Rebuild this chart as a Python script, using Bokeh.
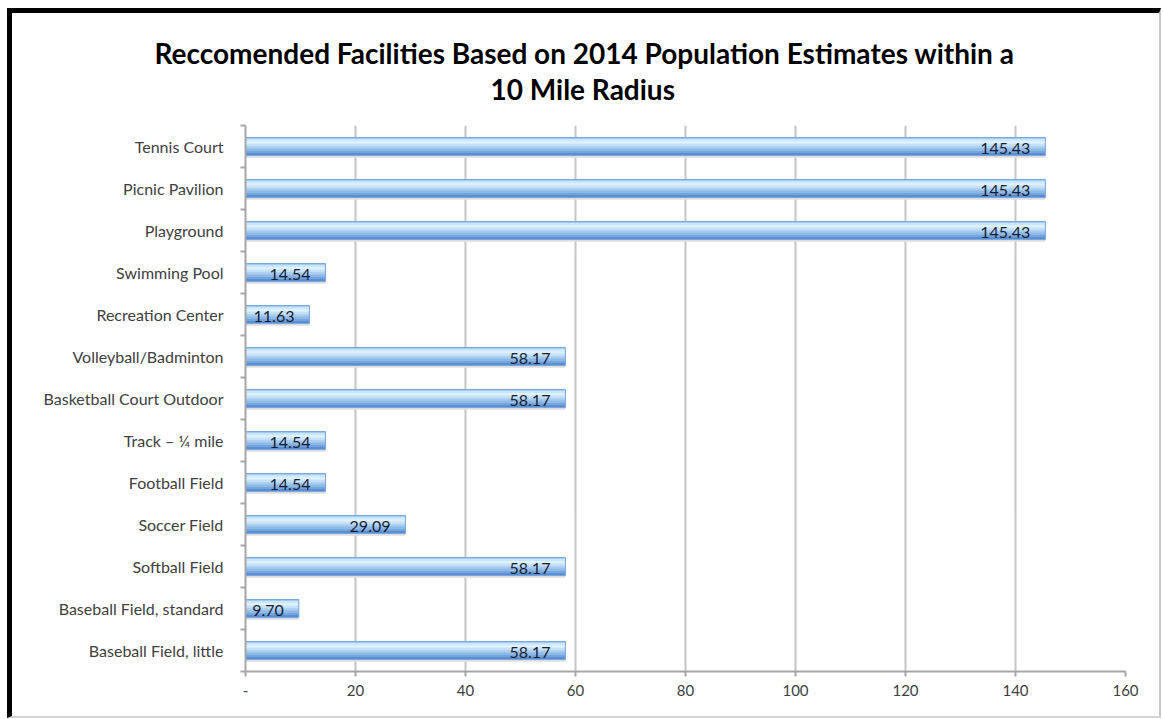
from bokeh.plotting import figure
from bokeh.models import Range1d, FixedTicker, LabelSet, ColumnDataSource, Title
from bokeh.core.properties import value
from bokeh.embed import file_html
from bokeh.resources import INLINE

# ---- data (top to bottom as shown) ----
categories = [
    "Tennis Court", "Picnic Pavilion", "Playground", "Swimming Pool",
    "Recreation Center", "Volleyball/Badminton", "Basketball Court Outdoor",
    "Track \u2013 \u00bc mile", "Football Field", "Soccer Field", "Softball Field",
    "Baseball Field, standard", "Baseball Field, little",
]
values = [145.43, 145.43, 145.43, 14.54, 11.63, 58.17, 58.17,
          14.54, 14.54, 29.09, 58.17, 9.70, 58.17]
value_labels = ["145.43", "145.43", "145.43", "14.54", "11.63", "58.17", "58.17",
                "14.54", "14.54", "29.09", "58.17", "9.70", "58.17"]
x_ticks = [0, 20, 40, 60, 80, 100, 120, 140, 160]
x_tick_labels = ["-", "20", "40", "60", "80", "100", "120", "140", "160"]
title_lines = ["Reccomended Facilities Based on 2014 Population Estimates within a",
               "10 Mile Radius"]

n = len(categories)
y_pos = [n - i - 0.5 for i in range(n)]

FONT = "Lato"
LABEL_COLOR = "#404040"
AXIS_COLOR = "#a6a6a6"
GRID_COLOR = "#c4c4c4"

p = figure(
    width=1154, height=710,
    x_range=Range1d(0, 160), y_range=Range1d(0, n),
    output_backend="svg", toolbar_location=None,
    min_border_left=233, min_border_right=41,
    min_border_top=112, min_border_bottom=52,
    background_fill_color="white", border_fill_color="white",
    outline_line_color=None,
    styles={
        "margin-left": "7px", "margin-top": "8px",
        "border-left": "5px solid #000", "border-top": "5px solid #000",
        "border-right": "2px solid #c8c8c8", "border-bottom": "2px solid #d4d4d4",
    },
)

# grid
p.ygrid.visible = False
p.xgrid.ticker = FixedTicker(ticks=x_ticks)
p.xgrid.grid_line_color = GRID_COLOR
p.xgrid.grid_line_width = 2

# x axis
xa = p.xaxis[0]
xa.ticker = FixedTicker(ticks=x_ticks)
xa.major_label_overrides = {t: l for t, l in zip(x_ticks, x_tick_labels)}
xa.axis_line_color = AXIS_COLOR
xa.axis_line_width = 2
xa.major_tick_line_color = AXIS_COLOR
xa.major_tick_line_width = 2
xa.major_tick_in = 0
xa.major_tick_out = 5
xa.minor_tick_line_color = None
xa.major_label_standoff = 8
xa.major_label_text_font = FONT
xa.major_label_text_font_size = "15px"
xa.major_label_text_color = LABEL_COLOR

# y axis
ya = p.yaxis[0]
ya.ticker = FixedTicker(ticks=y_pos, minor_ticks=list(range(n + 1)))
ya.major_label_overrides = {y: c for y, c in zip(y_pos, categories)}
ya.axis_line_color = AXIS_COLOR
ya.axis_line_width = 2
ya.major_tick_line_color = None
ya.major_tick_in = 0
ya.major_tick_out = 0
ya.minor_tick_line_color = AXIS_COLOR
ya.minor_tick_line_width = 2
ya.minor_tick_in = 0
ya.minor_tick_out = 5
ya.major_label_standoff = 17
ya.major_label_text_font = FONT
ya.major_label_text_font_size = "16px"
ya.major_label_text_color = LABEL_COLOR

# bars: layered strips to imitate the gradient fill
BAR_H = 0.43
strips = [  # (top fraction, bottom fraction, colour)
    (0.00, 0.08, "#9ecbf1"),
    (0.08, 0.20, "#c9e6fb"),
    (0.20, 0.35, "#dcf0fd"),
    (0.35, 0.48, "#c3e1f8"),
    (0.48, 0.60, "#a6cdf2"),
    (0.60, 0.72, "#8cbbeb"),
    (0.72, 0.86, "#72a6e0"),
    (0.86, 1.00, "#5a8fd3"),
]
# shadow
p.hbar(y=[y - 0.05 for y in y_pos], height=BAR_H, left=0, right=values,
       fill_color="#dedede", line_color=None)
for t, b, col in strips:
    centre = BAR_H / 2 - (t + b) / 2 * BAR_H
    p.hbar(y=[y + centre for y in y_pos], height=(b - t) * BAR_H,
           left=0, right=values, fill_color=col, line_color=None)
# edge
p.hbar(y=y_pos, height=BAR_H, left=0, right=values, fill_color=None,
       line_color="#7aa6dc", line_width=1)

# value labels
src = ColumnDataSource(dict(x=values, y=y_pos, t=value_labels))
p.add_layout(LabelSet(x="x", y="y", text="t", source=src, x_offset=-15, y_offset=-2,
                      text_align="right", text_baseline="middle",
                      text_font=value(FONT), text_font_size=value("16px"),
                      text_color=value("#1c1c30")))

# title: line 2 closest to the plot, then line 1
p.add_layout(Title(text=title_lines[1], align="left", offset=245,
                   text_font=FONT, text_font_size="28px", text_font_style="bold",
                   text_color="#000000", standoff=40), "above")
p.add_layout(Title(text=title_lines[0], align="left", offset=-91,
                   text_font=FONT, text_font_size="28px", text_font_style="bold",
                   text_color="#000000", standoff=-41), "above")

open("out.html", "w").write(file_html(p, INLINE))
